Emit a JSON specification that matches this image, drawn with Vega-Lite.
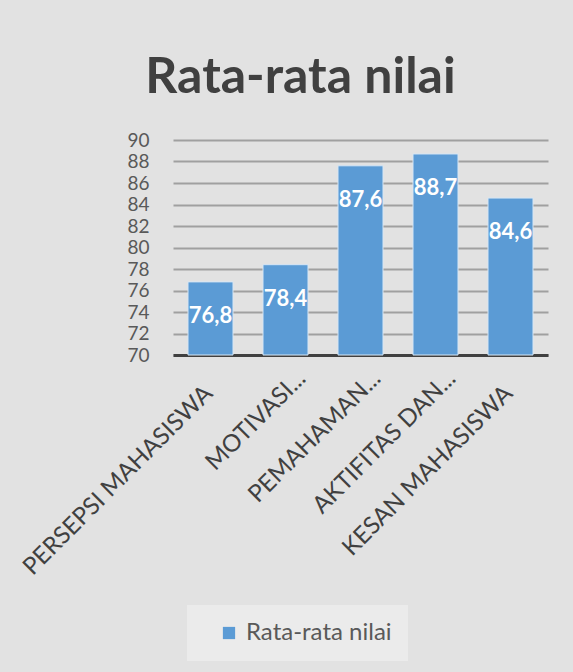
{
  "$schema": "https://vega.github.io/schema/vega-lite/v6.json",
  "autosize": {"type": "none"},
  "width": 375,
  "height": 215,
  "padding": {"left": 173, "top": 140, "right": 25, "bottom": 317},
  "background": "#e2e2e2",
  "title": {
    "text": "Rata-rata nilai",
    "font": "Lato",
    "fontSize": 50,
    "fontWeight": "bold",
    "color": "#404040",
    "anchor": "middle",
    "dx": -60,
    "offset": 28
  },
  "config": {
    "locale": {"number": {"decimal": ",", "thousands": ".", "grouping": [3], "currency": ["Rp", ""]}},
    "view": {"stroke": null}
  },
  "data": {
    "values": [
      {"kategori": "PERSEPSI MAHASISWA", "nilai": 76.8},
      {"kategori": "MOTIVASI...", "nilai": 78.4},
      {"kategori": "PEMAHAMAN...", "nilai": 87.6},
      {"kategori": "AKTIFITAS DAN...", "nilai": 88.7},
      {"kategori": "KESAN MAHASISWA", "nilai": 84.6}
    ]
  },
  "encoding": {
    "x": {
      "field": "kategori",
      "type": "nominal",
      "sort": null,
      "scale": {"paddingInner": 0.4, "paddingOuter": 0.2},
      "axis": {
        "title": null,
        "labelAngle": -45,
        "labelFont": "Lato",
        "labelFontSize": 24,
        "labelColor": "#404040",
        "labelAlign": "right",
        "labelBaseline": "top",
        "labelLimit": 0,
        "labelOffset": {"condition": {"test": "indexof(datum.label, '...') >= 0", "value": 8}, "value": -10},
        "labelPadding": {"condition": {"test": "indexof(datum.label, '...') >= 0", "value": 11}, "value": 26},
        "ticks": false,
        "domainColor": "#404040",
        "domainWidth": 3
      }
    },
    "y": {
      "field": "nilai",
      "type": "quantitative",
      "scale": {"domain": [70, 90], "zero": false, "nice": false},
      "axis": {
        "title": null,
        "values": [70, 72, 74, 76, 78, 80, 82, 84, 86, 88, 90],
        "labelFont": "Lato",
        "labelFontSize": 19,
        "labelColor": "#595959",
        "labelPadding": 24,
        "labelOverlap": false,
        "labelFlush": false,
        "ticks": false,
        "domain": false,
        "gridColor": "#a0a0a0",
        "gridWidth": 2
      }
    }
  },
  "layer": [
    {
      "mark": {"type": "bar", "stroke": "#d6e6f5", "strokeWidth": 1},
      "encoding": {
        "y2": {"datum": 70},
        "color": {
          "datum": "Rata-rata nilai",
          "type": "nominal",
          "scale": {"range": ["#5b9bd5"]},
          "legend": {
            "orient": "none",
            "legendX": 14,
            "legendY": 465,
            "title": null,
            "direction": "horizontal",
            "fillColor": "#ebebeb",
            "padding": 16,
            "symbolType": "square",
            "symbolSize": 150,
            "symbolOffset": 14,
            "symbolStrokeWidth": 0,
            "labelFont": "Lato",
            "labelFontSize": 24,
            "labelColor": "#595959",
            "labelOffset": 5
          }
        }
      }
    },
    {
      "mark": {"type": "text", "font": "Lato", "fontSize": 22, "fontWeight": "bold", "color": "white", "dy": 34, "baseline": "middle"},
      "encoding": {
        "text": {"field": "nilai", "type": "quantitative", "format": ".1f"}
      }
    }
  ]
}
